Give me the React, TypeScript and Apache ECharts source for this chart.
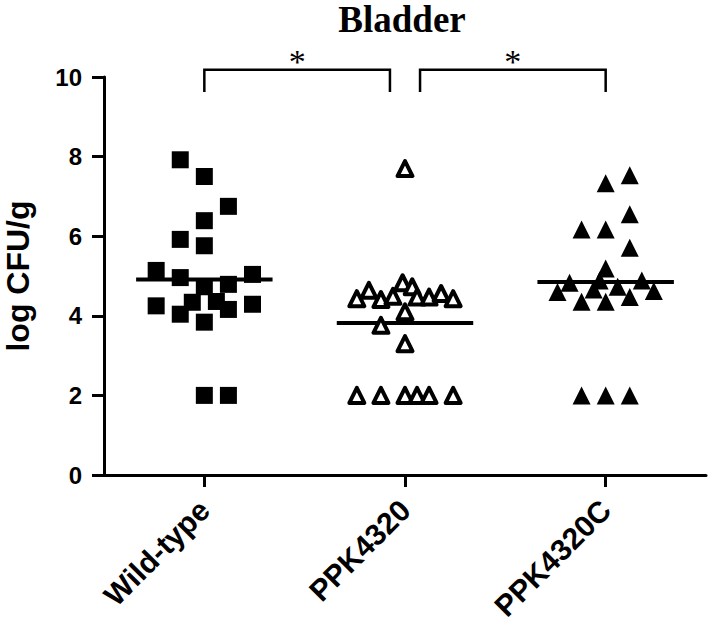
import React, { useEffect, useRef } from 'react';
import * as echarts from 'echarts';

const categories = ['Wild-type', 'PPK4320', 'PPK4320C'];
const yMin = 0;
const yMax = 10;
const yInterval = 2;

const wildTypeValues = [7.92, 7.5, 6.75, 6.39, 5.92, 5.76, 5.14, 4.96, 5.04, 4.73, 4.79, 4.34, 4.36, 4.25, 4.29, 4.04, 4.16, 3.84, 2.0, 2.0];
const wildTypeJitter = [-2, 0, 2, 0, -2, 0, -4, -2, 4, 0, 2, -1, 1, -4, 4, -2, 2, 0, 0, 2];

const ppkValues = [7.7, 4.43, 4.64, 4.41, 4.49, 4.83, 4.73, 4.47, 4.47, 4.56, 4.43, 4.1, 3.76, 3.3, 2.0, 2.0, 2.0, 2.0, 2.0, 2.0];
const ppkJitter = [0, -4, -3, -2, -1, -0.2, 0.6, 1, 2, 3, 4, 0, -2, 0, -4, -2, 0, 1, 2, 4];

const ppkCValues = [7.53, 7.33, 6.55, 6.17, 6.17, 5.71, 5.19, 4.83, 4.89, 4.89, 4.6, 4.66, 4.73, 4.62, 4.35, 4.35, 4.47, 2.0, 2.0, 2.0];
const ppkCJitter = [2, 0, 2, -2, 0, 2, 0, -3, 3, -0.5, -4, -1, 1, 4, -2, 0, 2, -2, 0, 2];

const medians = [4.91, 3.82, 4.85];

// significance comparisons: [from category, to category, label]
const comparisons: [number, number, string][] = [
  [0, 1, '*'],
  [1, 2, '*'],
];
const bracketTop = 10.18;
const bracketBottom = 9.62;
const starLevel = 10.4;

const JITTER_STEP = 0.06;
const MEDIAN_HALF = 0.34;
const BRACKET_GAP = 0.075;

const SANS = '"Liberation Sans", Arial, sans-serif';
const SERIF = '"Liberation Serif", "Times New Roman", serif';

function toPoints(values: number[], jitter: number[], idx: number) {
  return values.map((v, i) => [idx + jitter[i] * JITTER_STEP, v]);
}

export default function App() {
  const ref = useRef<HTMLDivElement>(null);
  useEffect(() => {
    document.body.style.margin = '0';
    if (!ref.current) return;
    const chart = echarts.init(ref.current, null, { renderer: 'svg' });

    const medianSeries = medians.map((m, i) => ({
      type: 'line',
      xAxisIndex: 1,
      yAxisIndex: 0,
      data: [
        [i - MEDIAN_HALF, m],
        [i + MEDIAN_HALF, m],
      ],
      symbol: 'none',
      lineStyle: { color: '#000', width: 4 },
      z: 2,
      silent: true,
    }));

    const bracketSeries = comparisons.map(([a, b], k) => {
      const x0 = a + (k > 0 ? BRACKET_GAP : 0);
      const x1 = b - (k === 0 ? BRACKET_GAP : 0);
      return {
        type: 'line',
        xAxisIndex: 1,
        yAxisIndex: 0,
        clip: false,
        data: [
          [x0, bracketBottom],
          [x0, bracketTop],
          [x1, bracketTop],
          [x1, bracketBottom],
        ],
        symbol: 'none',
        lineStyle: { color: '#000', width: 2.5, join: 'miter' },
        silent: true,
      };
    });

    const option: any = {
      animation: false,
      backgroundColor: '#fff',
      grid: { left: 104, right: 2, top: 77, bottom: 147, containLabel: false, outerBoundsMode: 'none' },
      xAxis: [
        {
          type: 'category',
          data: categories,
          boundaryGap: true,
          axisLine: { show: true, onZero: false, lineStyle: { color: '#000', width: 3 } },
          axisTick: { show: true, alignWithLabel: true, length: 12, lineStyle: { color: '#000', width: 3 } },
          axisLabel: {
            rotate: 45,
            margin: 30,
            color: '#000',
            fontFamily: SANS,
            fontWeight: 'bold',
            fontSize: 30,
          },
          splitLine: { show: false },
        },
        {
          type: 'value',
          min: -0.5,
          max: 2.5,
          show: false,
        },
      ],
      yAxis: {
        type: 'value',
        min: yMin,
        max: yMax,
        interval: yInterval,
        name: 'log CFU/g',
        nameLocation: 'middle',
        nameGap: 70,
        nameTextStyle: { color: '#000', fontFamily: SANS, fontWeight: 'bold', fontSize: 32 },
        axisLine: { show: true, onZero: false, lineStyle: { color: '#000', width: 3 } },
        axisTick: { show: true, length: 12, lineStyle: { color: '#000', width: 3 } },
        axisLabel: { margin: 22, color: '#000', fontFamily: SANS, fontWeight: 'bold', fontSize: 24 },
        splitLine: { show: false },
      },
      series: [
        ...medianSeries,
        ...bracketSeries,
        {
          name: categories[0],
          type: 'scatter',
          xAxisIndex: 1,
          yAxisIndex: 0,
          symbol: 'rect',
          symbolSize: 17,
          itemStyle: { color: '#000', opacity: 1 },
          data: toPoints(wildTypeValues, wildTypeJitter, 0),
          z: 3,
        },
        {
          name: categories[1],
          type: 'scatter',
          xAxisIndex: 1,
          yAxisIndex: 0,
          symbol: 'triangle',
          symbolSize: 15,
          itemStyle: { color: '#fff', borderColor: '#000', borderWidth: 4, borderJoin: 'round', opacity: 1 },
          data: toPoints(ppkValues, ppkJitter, 1),
          z: 3,
        },
        {
          name: categories[2],
          type: 'scatter',
          xAxisIndex: 1,
          yAxisIndex: 0,
          symbol: 'triangle',
          symbolSize: 18,
          itemStyle: { color: '#000', opacity: 1 },
          data: toPoints(ppkCValues, ppkCJitter, 2),
          z: 3,
        },
      ],
    };
    chart.setOption(option);

    const graphics: any[] = comparisons.map(([a, b, label], k) => {
      const x0 = a + (k > 0 ? BRACKET_GAP : 0);
      const x1 = b - (k === 0 ? BRACKET_GAP : 0);
      const [px, py] = chart.convertToPixel({ xAxisIndex: 1, yAxisIndex: 0 } as any, [(x0 + x1) / 2, starLevel]) as number[];
      return {
        type: 'text',
        x: px,
        y: py,
        z: 10,
        style: {
          text: label,
          fill: '#000',
          font: `34px ${SERIF}`,
          align: 'center',
          verticalAlign: 'middle',
          textAlign: 'center',
          textVerticalAlign: 'middle',
        },
      };
    });
    graphics.push({
      type: 'text',
      x: 402,
      y: 19,
      z: 10,
      style: {
        text: 'Bladder',
        fill: '#000',
        font: `bold 37px ${SERIF}`,
        align: 'center',
        verticalAlign: 'middle',
        textAlign: 'center',
        textVerticalAlign: 'middle',
      },
    });
    chart.setOption({ graphic: graphics });

    return () => chart.dispose();
  }, []);
  return <div ref={ref} style={{ width: 708, height: 622 }} />;
}
